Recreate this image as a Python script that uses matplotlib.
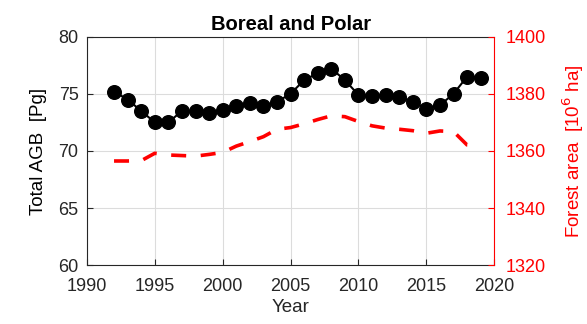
import matplotlib
matplotlib.use('Agg')
import matplotlib.pyplot as plt

plt.rcParams['font.family'] = ['Liberation Sans', 'DejaVu Sans']

years = list(range(1992, 2020))
agb = [75.2, 74.5, 73.5, 72.5, 72.5, 73.5, 73.5, 73.3, 73.6, 73.9,
       74.2, 73.9, 74.3, 75.0, 76.2, 76.8, 77.2, 76.2, 74.9, 74.8,
       74.9, 74.7, 74.3, 73.7, 74.0, 75.0, 76.5, 76.4]
forest_area = [1356.5, 1356.5, 1356.6, 1359.2, 1358.6, 1358.4, 1358.2, 1358.8, 1359.5, 1361.7,
               1363.3, 1365.0, 1367.6, 1368.2, 1369.5, 1371.0, 1372.3, 1372.0, 1370.3, 1368.8,
               1368.0, 1367.6, 1367.1, 1366.2, 1367.0, 1366.8, 1362.1, 1361.8]

fig = plt.figure(figsize=(5.87, 3.24), dpi=100)
ax = fig.add_axes([0.148, 0.181, 0.694, 0.706])

ax.plot(years, agb, '-o', color='black', lw=1.5, markersize=9.8, zorder=3)
ax.set_xlim(1990, 2020)
ax.set_ylim(60, 80)
ax.set_xticks(range(1990, 2021, 5))
ax.set_yticks(range(60, 81, 5))
ax.grid(True, color='#dcdcdc', lw=0.8)
ax.set_axisbelow(True)
ax.tick_params(direction='in', length=4, labelsize=13, colors='#262626', width=0.8)
ax.tick_params(axis='y', pad=6)
ax.tick_params(axis='x', pad=9)
ax.set_xlabel('Year', fontsize=13.5, color='#262626', labelpad=3)
ax.set_ylabel('Total AGB  [Pg]', fontsize=13.5, labelpad=8)
ax.set_title('Boreal and Polar', fontsize=14.5, fontweight='bold', pad=5)
for side in ('left', 'bottom', 'top'):
    ax.spines[side].set_color('#262626')
    ax.spines[side].set_linewidth(0.8)
ax.spines['right'].set_visible(False)

ax2 = ax.twinx()
lw = 2.6
ax2.plot(years, forest_area, color='red', lw=lw,
         linestyle=(0, (10.8 / lw, 10.5 / lw)), dash_capstyle='butt', zorder=2)
ax2.set_ylim(1320, 1400)
ax2.set_yticks(range(1320, 1401, 20))
ax2.tick_params(direction='in', length=4, labelsize=13, colors='red', width=0.8, pad=8)
ax2.set_ylabel('Forest area  [10$^6$ ha]', fontsize=13.5, color='red', labelpad=11)
ax2.spines['right'].set_color('red')
ax2.spines['right'].set_linewidth(0.8)
for side in ('left', 'bottom', 'top'):
    ax2.spines[side].set_visible(False)

fig.savefig('out.png', dpi=100)
